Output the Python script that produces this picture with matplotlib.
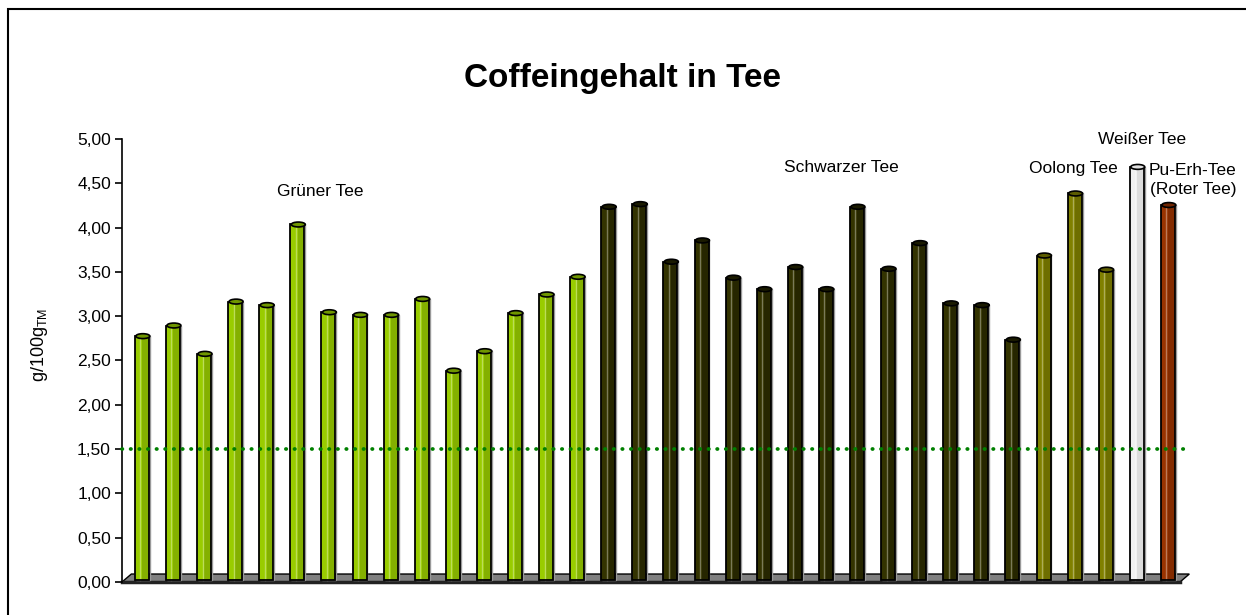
import numpy as np
import matplotlib.pyplot as plt
from matplotlib.patches import Ellipse, Rectangle
from matplotlib.ticker import FuncFormatter

plt.rcParams['font.family'] = ['Liberation Sans', 'DejaVu Sans']
plt.rcParams['mathtext.fontset'] = 'custom'
plt.rcParams['mathtext.rm'] = 'Liberation Sans'

# Data (g/100g TM)
gruen = [2.75, 2.87, 2.55, 3.14, 3.10, 4.01, 3.02, 2.99, 2.99, 3.17,
         2.36, 2.58, 3.01, 3.22, 3.42]
schwarz = [4.21, 4.24, 3.59, 3.83, 3.41, 3.28, 3.53, 3.28, 4.21, 3.51,
           3.80, 3.12, 3.10, 2.71]
oolong = [3.66, 4.36, 3.50]
weiss = [4.66]
puerh = [4.23]

series = [gruen, schwarz, oolong, weiss, puerh]
colors = ['#99CC00', '#333300', '#808000', '#F0F0F0', '#993300']
shades = ['#84B000', '#262600', '#6E6E00', '#DCDCDC', '#832B00']
tops = ['#6F9600', '#1A1A00', '#5C5C00', '#E0E0E0', '#6E2400']
labels = ['Grüner Tee', 'Schwarzer Tee', 'Oolong Tee', 'Weißer Tee',
          'Pu-Erh-Tee\n(Roter Tee)']

W, H = 1246, 615
fig = plt.figure(figsize=(W / 100, H / 100), dpi=100)
ax = fig.add_axes([122 / W, (H - 582) / H, (1180 - 122) / W, (582 - 139) / H])

base = 0.025
bw = 0.45
xpos = 0
for vals, c, s, t in zip(series, colors, shades, tops):
    for v in vals:
        ax.bar(xpos, v, bottom=base, width=bw, color=c, lw=0, zorder=3)
        ax.bar(xpos + 0.11, v, bottom=base, width=0.2, color=s, lw=0, zorder=3)
        ax.plot([xpos - 0.05, xpos - 0.05], [base, base + v], color='white',
                alpha=0.35, lw=1, zorder=3)
        ax.bar(xpos, v, bottom=base, width=bw, fill=False, edgecolor='black',
               lw=1.3, zorder=4)
        ax.bar(xpos + 0.03, v, bottom=base, width=bw, fill=False,
               edgecolor='#999999', lw=1, zorder=2)
        ax.add_patch(Ellipse((xpos + 0.03, base + v), bw, 0.055, facecolor=t,
                             edgecolor='black', lw=1.2, zorder=5))
        xpos += 1

x0, x1 = -0.64, 33.39
ax.set_xlim(x0, x1)
ax.set_ylim(0, 5)

# floor
dx, dy = 0.3, 0.09
ax.fill([x0, x1, x1 + dx, x0 + dx], [0, 0, dy, dy], facecolor='#808080',
        edgecolor='black', lw=1, zorder=1, clip_on=False)
ax.plot([x0, x1], [0, 0], color='#222222', lw=2.5, zorder=1, clip_on=False)

# 1.5 reference line
ax.plot([x0, 33.55], [1.5, 1.5], color='#008000', lw=2.7,
        linestyle=(0, (0.1, 2.2)), dash_capstyle='round', zorder=6,
        clip_on=False)

for sp in ['top', 'right', 'bottom']:
    ax.spines[sp].set_visible(False)
ax.spines['left'].set_linewidth(1.2)
ax.set_xticks([])
ax.set_yticks(np.arange(0, 5.01, 0.5))
ax.yaxis.set_major_formatter(FuncFormatter(lambda v, p: f'{v:.2f}'.replace('.', ',')))
ax.tick_params(axis='y', direction='out', length=5, width=1.2, labelsize=12.5,
               pad=3)

fig.text(622 / W, (H - 78) / H, 'Coffeingehalt in Tee', ha='center',
         va='center', fontsize=24, fontweight='bold')
fig.text(40 / W, (H - 345) / H, 'g/100g$_{\\mathrm{TM}}$', rotation=90,
         ha='center', va='center', fontsize=13)

label_pos = [(320, 191), (841, 168), (1073, 168), (1142, 139), (1193, 180)]
for lab, (px, py) in zip(labels, label_pos):
    fig.text(px / W, (H - py) / H, lab, ha='center', va='center',
             fontsize=12.5, linespacing=1.3)

# outer frame
fig.add_artist(Rectangle((8 / W, -0.1), 1.2, (H - 9) / H + 0.1,
                         transform=fig.transFigure, fill=False,
                         edgecolor='black', lw=1.5))

fig.savefig('out.png', dpi=100)
